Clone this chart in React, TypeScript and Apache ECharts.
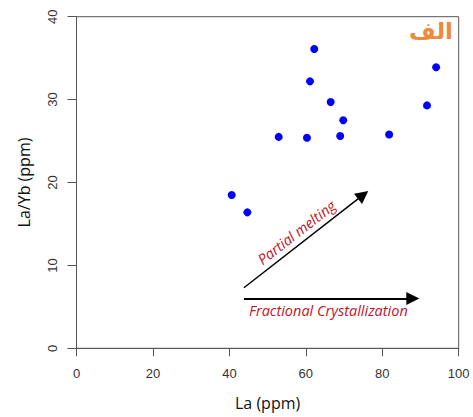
import React, { useEffect, useRef } from "react";
import * as echarts from "echarts";

const laValues = [40.6, 44.7, 52.9, 60.3, 61.1, 62.2, 66.5, 69.8, 69.0, 81.8, 91.7, 94.1];
const laYbValues = [18.5, 16.4, 25.5, 25.4, 32.2, 36.1, 29.7, 27.5, 25.6, 25.8, 29.3, 33.9];
const xTicks = [0, 20, 40, 60, 80, 100];
const yTicks = [0, 10, 20, 30, 40];
const partialMeltingArrow = [[43.8, 7.3], [75.0, 18.5]];
const fractionalArrow = [[43.8, 6.0], [88.0, 6.0]];
const labelPartial = "Partial melting";
const labelFractional = "Fractional Crystallization";
const panelTag = "الف";

export default function App() {
  const ref = useRef<HTMLDivElement>(null);
  useEffect(() => {
    if (!ref.current) return;
    const chart = echarts.init(ref.current, undefined, { renderer: "svg" });
    const axisColor = "#555";
    const points = laValues.map((x, i) => [x, laYbValues[i]]);
    chart.setOption({
      animation: false,
      grid: {
        left: 76.5,
        right: 14.3,
        top: 16.7,
        bottom: 68.7,
        show: true,
        borderColor: axisColor,
        borderWidth: 1,
      },
      xAxis: {
        type: "value",
        min: xTicks[0],
        max: xTicks[xTicks.length - 1],
        interval: 20,
        name: "La (ppm)",
        nameLocation: "middle",
        nameGap: 47,
        nameTextStyle: { fontFamily: "Open Sans", fontSize: 16, color: "#111" },
        axisLine: { show: true, lineStyle: { color: axisColor, width: 1 } },
        axisTick: { show: true, length: 8, lineStyle: { color: axisColor } },
        axisLabel: { margin: 19, fontFamily: "Liberation Sans", fontSize: 13, color: "#333" },
        splitLine: { show: false },
      },
      yAxis: {
        type: "value",
        min: yTicks[0],
        max: yTicks[yTicks.length - 1],
        interval: 10,
        name: "La/Yb (ppm)",
        nameLocation: "middle",
        nameGap: 45,
        nameTextStyle: { fontFamily: "Open Sans", fontSize: 16, color: "#111" },
        axisLine: { show: true, lineStyle: { color: axisColor, width: 1 } },
        axisTick: { show: true, length: 9, lineStyle: { color: axisColor } },
        axisLabel: { rotate: 90, margin: 18, fontFamily: "Liberation Sans", fontSize: 13, color: "#333" },
        splitLine: { show: false },
      },
      graphic: [
        {
          type: "text",
          right: 20,
          top: 19,
          style: {
            text: panelTag,
            fill: "#f0883e",
            font: "bold 23px 'DejaVu Sans'",
          },
        },
      ],
      series: [
        {
          type: "scatter",
          data: points,
          symbolSize: 8,
          itemStyle: { color: "#0000ff", opacity: 1 },
          markLine: {
            silent: true,
            animation: false,
            symbol: ["none", "triangle"],
            symbolSize: 13,
            data: [
              [
                {
                  coord: partialMeltingArrow[0],
                  lineStyle: { color: "#000", width: 1.5, type: "solid", opacity: 1 },
                  label: {
                    show: true,
                    position: "insideMiddleTop",
                    formatter: labelPartial,
                    color: "#c0142a",
                    fontFamily: "Open Sans",
                    fontStyle: "italic",
                    fontSize: 14.5,
                    distance: 4,
                  },
                },
                { coord: partialMeltingArrow[1] },
              ],
              [
                {
                  coord: fractionalArrow[0],
                  lineStyle: { color: "#000", width: 2, type: "solid", opacity: 1 },
                  label: {
                    show: true,
                    position: "insideMiddleBottom",
                    formatter: labelFractional,
                    color: "#c0142a",
                    fontFamily: "Open Sans",
                    fontStyle: "italic",
                    fontSize: 14.5,
                    distance: 4,
                  },
                },
                { coord: fractionalArrow[1] },
              ],
            ],
          },
        },
      ],
    });
    return () => chart.dispose();
  }, []);
  return (
    <div
      ref={ref}
      style={{ position: "fixed", left: 0, top: 0, width: 473, height: 417, background: "#fff" }}
    />
  );
}
